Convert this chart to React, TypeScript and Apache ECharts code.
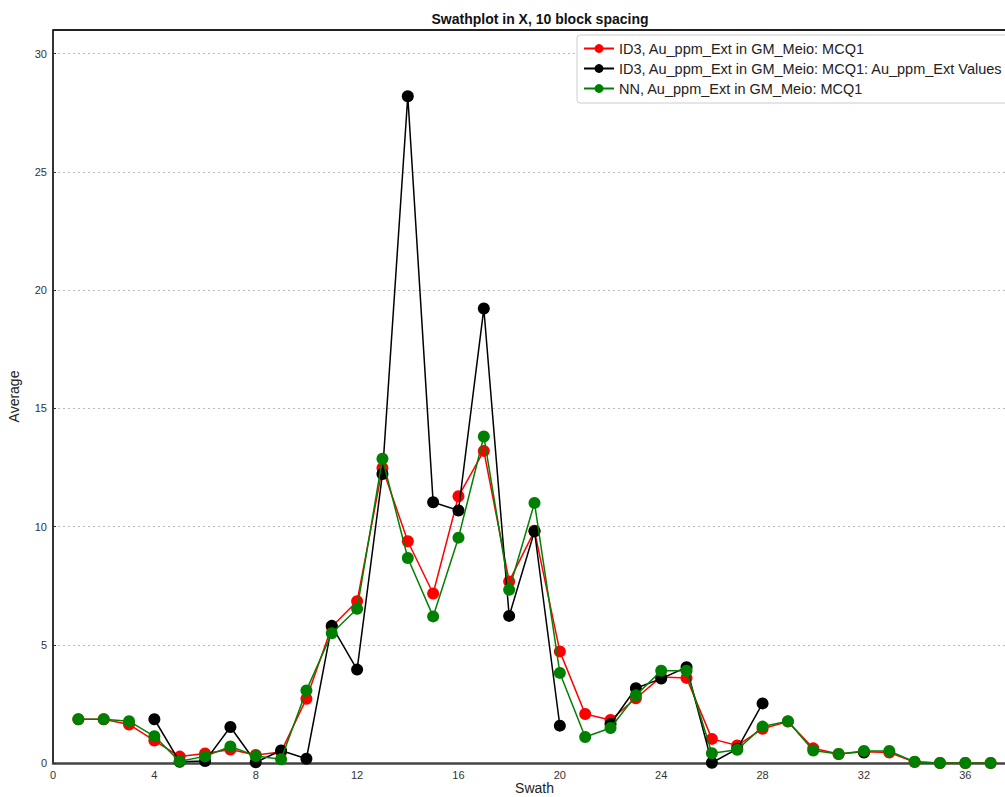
import React, { useEffect, useRef } from "react";
import * as echarts from "echarts";

const swaths = [1,2,3,4,5,6,7,8,9,10,11,12,13,14,15,16,17,18,19,20,21,22,23,24,25,26,27,28,29,30,31,32,33,34,35,36,37];

const id3Values = [1.85,1.85,1.63,0.95,0.27,0.4,0.57,0.34,0.47,2.72,5.76,6.84,12.48,9.38,7.17,11.28,13.2,7.68,9.82,4.72,2.07,1.82,2.74,3.64,3.6,1.02,0.74,1.45,1.75,0.62,0.38,0.48,0.44,0.04,0.0,0.0,0.0];

const id3ExtValues: (number | null)[] = [null,null,null,1.85,0.05,0.08,1.52,0.03,0.53,0.18,5.8,3.95,12.22,28.2,11.03,10.68,19.22,6.22,9.8,1.58,null,1.65,3.16,3.57,4.05,0.01,0.6,2.52,null,null,null,0.44,null,null,null,null,null];

const nnValues = [1.85,1.85,1.77,1.13,0.07,0.28,0.7,0.3,0.16,3.07,5.49,6.52,12.87,8.67,6.2,9.53,13.81,7.33,11.0,3.81,1.1,1.48,2.86,3.9,3.9,0.41,0.56,1.54,1.77,0.53,0.38,0.51,0.51,0.05,0.0,0.0,0.0];

const seriesNames = [
  "ID3, Au_ppm_Ext in GM_Meio: MCQ1",
  "ID3, Au_ppm_Ext in GM_Meio: MCQ1: Au_ppm_Ext Values",
  "NN, Au_ppm_Ext in GM_Meio: MCQ1",
];
const seriesColors = ["#ff0000", "#000000", "#008000"];

const yTicks = [0, 5, 10, 15, 20, 25, 30];
const xTicks = [0, 4, 8, 12, 16, 20, 24, 28, 32, 36];

export default function App() {
  const ref = useRef<HTMLDivElement>(null);
  useEffect(() => {
    if (!ref.current) return;
    const chart = echarts.init(ref.current, null, { renderer: "svg" });
    const allVals = [id3Values, id3ExtValues, nnValues];
    const sans = "'Liberation Sans', Arial, sans-serif";
    const gridLeft = 53;
    const gridTop = 30;
    chart.setOption({
      animation: false,
      backgroundColor: "#ffffff",
      title: {
        text: "Swathplot in X, 10 block spacing",
        left: 535,
        top: 7,
        textAlign: "center",
        textStyle: { fontFamily: sans, fontSize: 14, fontWeight: "bold", color: "#111" },
      },
      legend: {
        orient: "vertical",
        left: 577,
        top: 35,
        itemWidth: 30,
        itemHeight: 11,
        itemGap: 5,
        padding: [6, 40, 7, 6],
        borderColor: "#cccccc",
        borderWidth: 1,
        borderRadius: 3,
        backgroundColor: "#ffffff",
        textStyle: { fontFamily: sans, fontSize: 14.5, color: "#222" },
        data: seriesNames,
      },
      graphic: [
        {
          type: "line",
          z: 100,
          shape: { x1: gridLeft, y1: gridTop, x2: 1040, y2: gridTop },
          style: { stroke: "#222", lineWidth: 2 },
        },
      ],
      grid: {
        left: gridLeft,
        right: 24,
        top: gridTop,
        bottom: 34,
        outerBoundsMode: "none",
        containLabel: false,
      },
      xAxis: {
        type: "value",
        min: 0,
        max: 38,
        interval: 4,
        name: "Swath",
        nameLocation: "middle",
        nameGap: 18,
        nameMoveOverlap: false,
        nameTextStyle: { fontFamily: sans, fontSize: 14, color: "#222", verticalAlign: "top" },
        axisLine: { show: true, lineStyle: { color: "#444", width: 2.5 } },
        axisTick: { show: false },
        splitLine: { show: false },
        axisLabel: {
          fontFamily: sans,
          fontSize: 11,
          color: "#333",
          margin: 6,
          customValues: xTicks,
        },
      },
      yAxis: {
        type: "value",
        min: 0,
        max: 31,
        interval: 5,
        name: "Average",
        nameLocation: "middle",
        nameGap: 32,
        nameTextStyle: { fontFamily: sans, fontSize: 14, color: "#222" },
        axisLine: { show: true, lineStyle: { color: "#333", width: 2 } },
        axisTick: { show: true, inside: true, length: 3, lineStyle: { color: "#333" }, customValues: yTicks },
        splitLine: { show: true, lineStyle: { color: "#bbbbbb", type: [2, 3], width: 1 } },
        axisLabel: {
          fontFamily: sans,
          fontSize: 11,
          color: "#333",
          margin: 6,
          customValues: yTicks,
        },
      },
      series: seriesNames.map((name, si) => ({
        name,
        type: "line",
        data: swaths.map((s, i) => [s, allVals[si][i] === null ? "-" : allVals[si][i]]),
        symbol: "circle",
        symbolSize: 12,
        showSymbol: true,
        showAllSymbol: true,
        connectNulls: false,
        clip: false,
        itemStyle: { color: seriesColors[si] },
        lineStyle: { color: seriesColors[si], width: 1.5 },
        z: 2 + si,
      })),
    });
    return () => chart.dispose();
  }, []);
  return (
    <div style={{ position: "fixed", left: 0, top: 0, width: 1005, height: 797, overflow: "hidden", background: "#fff" }}>
      <div ref={ref} style={{ width: 1040, height: 797 }} />
    </div>
  );
}
